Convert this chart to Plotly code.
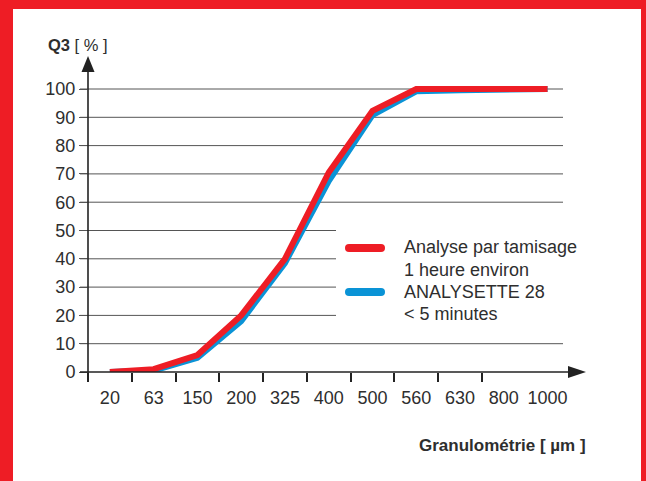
import plotly.graph_objects as go

# ---- data ----
sizes = ["20", "63", "150", "200", "325", "400", "500", "560", "630", "800", "1000"]
sieve = [0, 1, 6, 20, 40, 70.5, 92.3, 100, 100, 100, 100]
analysette = [0, 0.5, 5, 18, 38.5, 67.5, 90.8, 99.2, 99.6, 100, 100]
y_ticks = [0, 10, 20, 30, 40, 50, 60, 70, 80, 90, 100]
short_grid = [20, 30, 40, 50]
legend_labels = [("Analyse par tamisage", "1 heure environ"), ("ANALYSETTE 28", "< 5 minutes")]
y_title_bold, y_title_rest = "Q3", "[ % ]"
x_title = "Granulométrie [ µm ]"

RED = "#EE1D25"
BLUE = "#0A93D6"
DARK = "#222222"
GRID = "#555555"
TXT = "#2e2e2e"
FONT = "Liberation Sans, Arial, sans-serif"

W, H = 646, 481


def px(x):
    return x / W


def py(y):
    return 1 - y / H


xi = list(range(len(sizes)))

fig = go.Figure()
fig.add_trace(go.Scatter(x=xi, y=analysette, mode="lines",
                         line=dict(color=BLUE, width=6), showlegend=False,
                         name="ANALYSETTE 28"))
fig.add_trace(go.Scatter(x=xi, y=sieve, mode="lines",
                         line=dict(color=RED, width=6), showlegend=False,
                         name="Analyse par tamisage"))

shapes = []
# white card on red background
shapes.append(dict(type="rect", xref="paper", yref="paper", x0=px(13), x1=px(641),
                   y0=-0.05, y1=py(9), fillcolor="white", line=dict(width=0), layer="below"))
# gridlines
for v in y_ticks[1:]:
    x1 = 336 if v in short_grid else 563
    shapes.append(dict(type="line", xref="paper", yref="y", x0=px(80), x1=px(x1),
                       y0=v, y1=v, line=dict(color=GRID, width=1), layer="below"))
# x axis line + arrow
shapes.append(dict(type="line", xref="paper", yref="paper", x0=px(80), x1=px(572),
                   y0=py(372), y1=py(372), line=dict(color=DARK, width=1.6)))
shapes.append(dict(type="path", xref="paper", yref="paper",
                   path=f"M {px(586)},{py(372)} L {px(568)},{py(366)} L {px(568)},{py(378)} Z",
                   fillcolor=DARK, line=dict(width=0)))
# y axis line + arrow
shapes.append(dict(type="line", xref="paper", yref="paper", x0=px(88), x1=px(88),
                   y0=py(379), y1=py(70), line=dict(color=DARK, width=1.6)))
shapes.append(dict(type="path", xref="paper", yref="paper",
                   path=f"M {px(88)},{py(56)} L {px(81.5)},{py(72)} L {px(94.5)},{py(72)} Z",
                   fillcolor=DARK, line=dict(width=0)))


def pill(x0, x1, yc, h, color):
    r = h / 2
    p = (f"M {px(x0 + r)},{py(yc - r)} L {px(x1 - r)},{py(yc - r)} "
         f"Q {px(x1)},{py(yc - r)} {px(x1)},{py(yc)} Q {px(x1)},{py(yc + r)} {px(x1 - r)},{py(yc + r)} "
         f"L {px(x0 + r)},{py(yc + r)} Q {px(x0)},{py(yc + r)} {px(x0)},{py(yc)} "
         f"Q {px(x0)},{py(yc - r)} {px(x0 + r)},{py(yc - r)} Z")
    return dict(type="path", xref="paper", yref="paper", path=p, fillcolor=color,
                line=dict(width=0))


shapes.append(pill(345, 385, 248, 8, RED))
shapes.append(pill(345, 385, 292, 8, BLUE))

annotations = []
line_y = [(247, 270), (292, 314)]
for (l1, l2), (y1, y2) in zip(legend_labels, line_y):
    for txt, yy in ((l1, y1), (l2, y2)):
        annotations.append(dict(xref="paper", yref="paper", x=px(402), y=py(yy),
                                xanchor="left", yanchor="middle", text=txt, showarrow=False,
                                font=dict(family=FONT, size=18, color=TXT)))
annotations.append(dict(xref="paper", yref="paper", x=px(46), y=py(45), xanchor="left",
                        yanchor="middle", showarrow=False,
                        text=f"<b>{y_title_bold}</b> {y_title_rest}",
                        font=dict(family=FONT, size=16.5, color=TXT)))
annotations.append(dict(xref="paper", yref="paper", x=px(588), y=py(445), xanchor="right",
                        yanchor="middle", showarrow=False, text=f"<b>{x_title}</b>",
                        font=dict(family=FONT, size=17, color=TXT)))

fig.update_layout(
    width=W, height=H, autosize=False,
    margin=dict(l=0, r=0, t=0, b=0, pad=0, autoexpand=False),
    paper_bgcolor=RED,
    plot_bgcolor="rgba(0,0,0,0)",
    shapes=shapes,
    annotations=annotations,
    xaxis=dict(domain=[px(88), px(585)], range=[-0.5, 10.856], automargin=False,
               tickmode="array", tickvals=xi, ticktext=sizes,
               ticks="outside", ticklen=9, tickcolor="rgba(0,0,0,0)",
               minor=dict(tickmode="array", tickvals=[i - 0.5 for i in xi[:-1]],
                          ticks="outside", ticklen=9, tickcolor=DARK, tickwidth=1.6,
                          showgrid=False),
               showgrid=False, zeroline=False, showline=False,
               tickfont=dict(family=FONT, size=18, color=TXT)),
    yaxis=dict(domain=[py(372), py(56)], range=[0, 111.66], automargin=False,
               tickmode="array", tickvals=y_ticks,
               ticks="outside", ticklen=8, tickcolor=GRID, tickwidth=1,
               showgrid=False, zeroline=False, showline=False,
               tickfont=dict(family=FONT, size=18, color=TXT)),
)

fig.write_html("out.html",
               config={"displayModeBar": False, "responsive": False},
               post_script="document.body.style.margin='0';document.body.style.padding='0';"
                           "document.body.style.overflow='hidden';")
